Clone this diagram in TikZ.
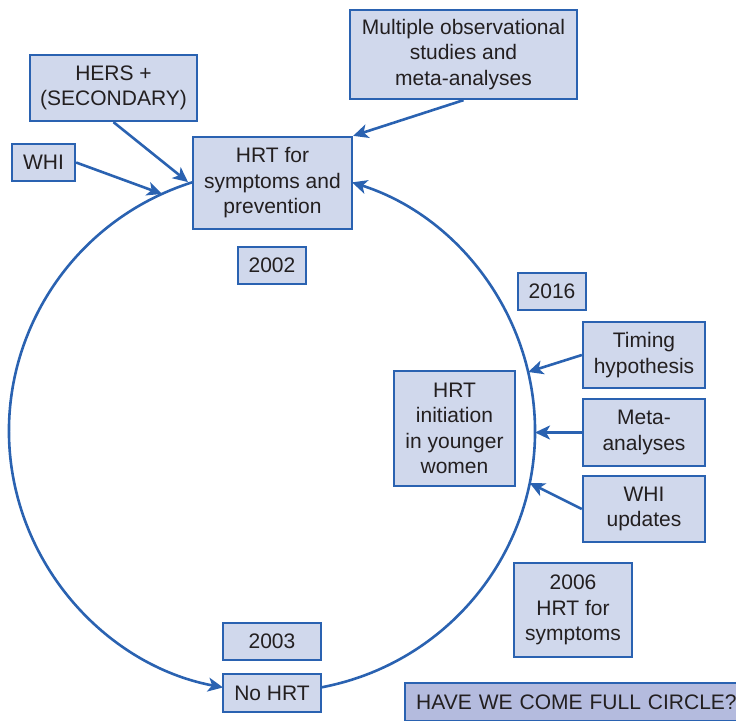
\documentclass[tikz,border=0pt]{standalone}
\usepackage{fontspec}
\setmainfont{Liberation Sans}
\usetikzlibrary{arrows.meta,calc}
\definecolor{lineblue}{HTML}{2A62B1}
\definecolor{boxfill}{HTML}{D0D8EC}
\definecolor{havefill}{HTML}{B4BBDE}
\definecolor{ink}{HTML}{231F20}
\begin{document}
\begin{tikzpicture}[x=1pt,y=-1pt,
  box/.style={draw=lineblue, fill=boxfill, line width=2.3pt, inner sep=0pt,
    align=center, text=ink, font=\fontsize{21}{25.5}\selectfont},
  conn/.style={draw=lineblue, line width=2.6pt,
    -{Stealth[length=15pt,width=14pt,inset=4pt]}}]
\useasboundingbox (0,0) rectangle (736,720);
% nodes
\node[box, minimum width=167pt, minimum height=66pt] (hers) at (113.5,88) {HERS +\\(SECONDARY)};
\node[box, minimum width=63pt, minimum height=37pt] (whi) at (43.5,162.5) {WHI};
\node[box, minimum width=159pt, minimum height=92pt] (hrt) at (272.5,183) {HRT for\\symptoms and\\prevention};
\node[box, minimum width=68pt, minimum height=37pt] (y2002) at (272,265.5) {2002};
\node[box, minimum width=227pt, minimum height=89pt] (multi) at (463.5,54.5) {Multiple observational\\studies and\\meta-analyses};
\node[box, minimum width=68pt, minimum height=37pt] (y2016) at (552,291.5) {2016};
\node[box, minimum width=122pt, minimum height=66pt] (timing) at (644,355) {Timing\\hypothesis};
\node[box, minimum width=122pt, minimum height=67pt] (meta) at (644,432.5) {Meta-\\analyses};
\node[box, minimum width=122pt, minimum height=66pt] (whiup) at (644,509) {WHI\\updates};
\node[box, minimum width=121pt, minimum height=115pt] (init) at (454.5,428.5) {HRT\\initiation\\in younger\\women};
\node[box, minimum width=118pt, minimum height=94pt] (y2006) at (573,610) {2006\\HRT for\\symptoms};
\node[box, minimum width=98pt, minimum height=37pt] (y2003) at (272,641.5) {2003};
\node[box, minimum width=98pt, minimum height=38pt] (nohrt) at (272,693) {No HRT};
\node[box, fill=havefill, anchor=west, minimum height=38pt, inner xsep=11pt,
  text width=335pt, align=left] (have) at (404,702) {HAVE WE COME FULL CIRCLE?};
% circle points
\coordinate (c) at (272,431);
\coordinate (a1) at ($(c)+({263*cos(252.52)},{261*sin(252.52)})$);
\coordinate (a2) at ($(c)+({263*cos(79.26)},{261*sin(79.26)})$);
\coordinate (pw) at ($(c)+({263*cos(245.27)},{261*sin(245.27)})$);
\coordinate (ph) at ($(a1)+(-5,0)$);
\coordinate (pt) at ($(c)+({263*cos(-13.07)},{261*sin(-13.07)})$);
\coordinate (pm) at ($(c)+(263,0)$);
\coordinate (pu) at ($(c)+({263*cos(11.49)},{261*sin(11.49)})$);
% circle arcs
\draw[conn] (a1) arc[start angle=252.52, end angle=100.74, x radius=263, y radius=261];
\draw[conn] (a2) arc[start angle=79.26, end angle=-72.29, x radius=263, y radius=261];
% straight connectors
\draw[conn] (whi.east) -- (pw);
\draw[conn] (hers.south) -- (ph);
\draw[conn] (multi.south) -- (hrt.north east);
\draw[conn] (timing.west) -- (pt);
\draw[conn] (meta.west) -- (meta.west -| pm);
\draw[conn] (whiup.west) -- (pu);
\end{tikzpicture}
\end{document}
